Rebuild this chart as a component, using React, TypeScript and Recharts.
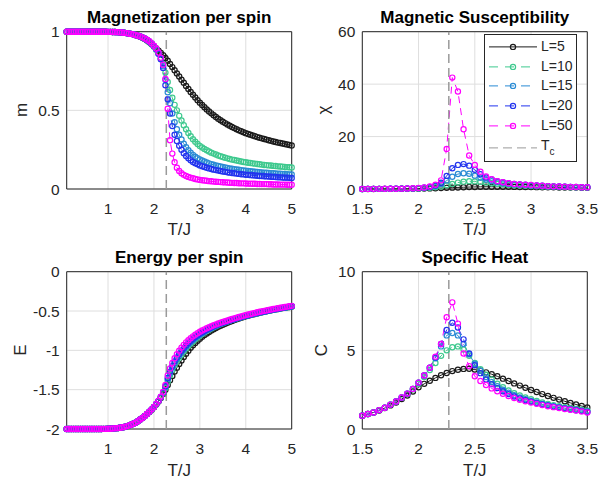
import React from 'react';
import { LineChart, Line, XAxis, YAxis, CartesianGrid, ReferenceLine, ReferenceArea } from 'recharts';

const FONT = "'Liberation Sans', Arial, Helvetica, sans-serif";
const TC = 2.269;

const seriesKeys = ['L5', 'L10', 'L15', 'L20', 'L50'];
const seriesLabels = ['L=5', 'L=10', 'L=15', 'L=20', 'L=50'];
const seriesColors = ['#1a1a1a', '#3ec98e', '#2a8bd4', '#2233ee', '#ff00ff'];
const seriesDash = ['', '7 5', '7 5', '7 5', '7 5'];

const T_full = [
  0.1, 0.15, 0.2, 0.25, 0.3, 0.35, 0.4, 0.45, 0.5, 0.55,
  0.6, 0.65, 0.7, 0.75, 0.8, 0.85, 0.9, 0.95, 1, 1.05,
  1.1, 1.15, 1.2, 1.25, 1.3, 1.35, 1.4, 1.45, 1.5, 1.55,
  1.6, 1.65, 1.7, 1.75, 1.8, 1.85, 1.9, 1.95, 2, 2.05,
  2.1, 2.15, 2.2, 2.25, 2.3, 2.35, 2.4, 2.45, 2.5, 2.55,
  2.6, 2.65, 2.7, 2.75, 2.8, 2.85, 2.9, 2.95, 3, 3.05,
  3.1, 3.15, 3.2, 3.25, 3.3, 3.35, 3.4, 3.45, 3.5, 3.55,
  3.6, 3.65, 3.7, 3.75, 3.8, 3.85, 3.9, 3.95, 4, 4.05,
  4.1, 4.15, 4.2, 4.25, 4.3, 4.35, 4.4, 4.45, 4.5, 4.55,
  4.6, 4.65, 4.7, 4.75, 4.8, 4.85, 4.9, 4.95, 5,
];

const T_zoom = [
  1.5, 1.55, 1.6, 1.65, 1.7, 1.75, 1.8, 1.85, 1.9, 1.95,
  2, 2.05, 2.1, 2.15, 2.2, 2.25, 2.3, 2.35, 2.4, 2.45,
  2.5, 2.55, 2.6, 2.65, 2.7, 2.75, 2.8, 2.85, 2.9, 2.95,
  3, 3.05, 3.1, 3.15, 3.2, 3.25, 3.3, 3.35, 3.4, 3.45,
  3.5,
];

// Magnetization per spin
const mL5 = [
  1, 1, 1, 1, 1, 1, 1, 1, 1, 1,
  1, 1, 1, 1, 1, 1, 1, 1, 0.999, 0.999,
  0.998, 0.998, 0.997, 0.996, 0.995, 0.993, 0.991, 0.989, 0.986, 0.983,
  0.978, 0.974, 0.968, 0.961, 0.953, 0.944, 0.933, 0.921, 0.907, 0.894,
  0.88, 0.865, 0.85, 0.833, 0.815, 0.795, 0.775, 0.755, 0.735, 0.715,
  0.695, 0.675, 0.655, 0.636, 0.617, 0.599, 0.582, 0.565, 0.549, 0.534,
  0.52, 0.506, 0.493, 0.481, 0.469, 0.458, 0.447, 0.437, 0.428, 0.419,
  0.41, 0.402, 0.394, 0.387, 0.38, 0.373, 0.367, 0.361, 0.355, 0.35,
  0.345, 0.34, 0.335, 0.33, 0.326, 0.322, 0.318, 0.314, 0.31, 0.306,
  0.302, 0.299, 0.295, 0.292, 0.289, 0.286, 0.283, 0.28, 0.277,
];
const mL10 = [
  1, 1, 1, 1, 1, 1, 1, 1, 1, 1,
  1, 1, 1, 1, 1, 1, 1, 1, 0.999, 0.999,
  0.998, 0.998, 0.997, 0.996, 0.995, 0.993, 0.991, 0.989, 0.986, 0.983,
  0.979, 0.975, 0.97, 0.963, 0.955, 0.946, 0.935, 0.921, 0.905, 0.885,
  0.862, 0.832, 0.795, 0.74, 0.68, 0.63, 0.58, 0.535, 0.5, 0.465,
  0.435, 0.405, 0.38, 0.356, 0.335, 0.316, 0.3, 0.286, 0.274, 0.264,
  0.255, 0.246, 0.238, 0.231, 0.225, 0.219, 0.213, 0.208, 0.203, 0.199,
  0.195, 0.191, 0.187, 0.184, 0.181, 0.178, 0.175, 0.172, 0.17, 0.167,
  0.165, 0.163, 0.161, 0.159, 0.157, 0.155, 0.153, 0.152, 0.15, 0.149,
  0.147, 0.146, 0.144, 0.143, 0.142, 0.14, 0.139, 0.138, 0.137,
];
const mL15 = [
  1, 1, 1, 1, 1, 1, 1, 1, 1, 1,
  1, 1, 1, 1, 1, 1, 1, 1, 0.999, 0.999,
  0.998, 0.998, 0.997, 0.996, 0.995, 0.993, 0.991, 0.989, 0.986, 0.983,
  0.979, 0.975, 0.97, 0.964, 0.957, 0.948, 0.937, 0.923, 0.907, 0.888,
  0.862, 0.828, 0.78, 0.695, 0.615, 0.545, 0.48, 0.425, 0.38, 0.345,
  0.315, 0.288, 0.265, 0.246, 0.23, 0.217, 0.205, 0.196, 0.188, 0.181,
  0.175, 0.169, 0.163, 0.158, 0.154, 0.15, 0.146, 0.143, 0.14, 0.137,
  0.134, 0.131, 0.129, 0.126, 0.124, 0.122, 0.12, 0.118, 0.116, 0.115,
  0.113, 0.111, 0.11, 0.108, 0.107, 0.106, 0.104, 0.103, 0.102, 0.101,
  0.1, 0.099, 0.098, 0.097, 0.096, 0.095, 0.094, 0.093, 0.092,
];
const mL20 = [
  1, 1, 1, 1, 1, 1, 1, 1, 1, 1,
  1, 1, 1, 1, 1, 1, 1, 1, 0.999, 0.999,
  0.998, 0.998, 0.997, 0.996, 0.995, 0.993, 0.991, 0.989, 0.986, 0.983,
  0.979, 0.975, 0.97, 0.964, 0.957, 0.948, 0.938, 0.925, 0.909, 0.89,
  0.86, 0.825, 0.77, 0.66, 0.57, 0.48, 0.4, 0.345, 0.305, 0.275,
  0.25, 0.228, 0.21, 0.195, 0.182, 0.172, 0.164, 0.157, 0.15, 0.145,
  0.14, 0.135, 0.131, 0.127, 0.123, 0.12, 0.117, 0.114, 0.111, 0.109,
  0.106, 0.104, 0.102, 0.1, 0.098, 0.096, 0.094, 0.093, 0.091, 0.09,
  0.088, 0.087, 0.086, 0.084, 0.083, 0.082, 0.081, 0.08, 0.079, 0.078,
  0.077, 0.076, 0.075, 0.074, 0.073, 0.072, 0.072, 0.071, 0.07,
];
const mL50 = [
  1, 1, 1, 1, 1, 1, 1, 1, 1, 1,
  1, 1, 1, 1, 1, 1, 1, 1, 0.999, 0.999,
  0.998, 0.998, 0.997, 0.996, 0.995, 0.993, 0.991, 0.989, 0.986, 0.983,
  0.979, 0.975, 0.97, 0.964, 0.957, 0.949, 0.939, 0.926, 0.911, 0.893,
  0.868, 0.835, 0.79, 0.7, 0.51, 0.31, 0.225, 0.17, 0.135, 0.115,
  0.1, 0.09, 0.083, 0.077, 0.072, 0.068, 0.064, 0.061, 0.058, 0.056,
  0.054, 0.052, 0.05, 0.049, 0.047, 0.046, 0.045, 0.044, 0.043, 0.042,
  0.041, 0.04, 0.039, 0.038, 0.038, 0.037, 0.036, 0.036, 0.035, 0.034,
  0.034, 0.033, 0.033, 0.032, 0.032, 0.031, 0.031, 0.031, 0.03, 0.03,
  0.029, 0.029, 0.029, 0.028, 0.028, 0.028, 0.027, 0.027, 0.027,
];

// Energy per spin
const eL5 = [
  -2, -2, -2, -2, -2, -2, -2, -2, -2, -2,
  -2, -2, -2, -2, -2, -2, -1.999, -1.999, -1.997, -1.996,
  -1.994, -1.992, -1.989, -1.985, -1.98, -1.974, -1.966, -1.957, -1.946, -1.933,
  -1.92, -1.9, -1.88, -1.86, -1.835, -1.81, -1.785, -1.755, -1.725, -1.69,
  -1.65, -1.605, -1.555, -1.5, -1.44, -1.38, -1.325, -1.27, -1.22, -1.175,
  -1.13, -1.085, -1.043, -1.004, -0.968, -0.935, -0.905, -0.877, -0.851, -0.828,
  -0.806, -0.786, -0.767, -0.749, -0.732, -0.716, -0.701, -0.687, -0.674, -0.661,
  -0.649, -0.637, -0.626, -0.615, -0.605, -0.595, -0.586, -0.577, -0.568, -0.56,
  -0.552, -0.544, -0.537, -0.53, -0.523, -0.516, -0.51, -0.503, -0.497, -0.491,
  -0.485, -0.479, -0.474, -0.468, -0.463, -0.458, -0.453, -0.448, -0.443,
];
const eL10 = [
  -2, -2, -2, -2, -2, -2, -2, -2, -2, -2,
  -2, -2, -2, -2, -2, -2, -1.999, -1.999, -1.997, -1.996,
  -1.994, -1.992, -1.989, -1.985, -1.98, -1.974, -1.966, -1.957, -1.946, -1.933,
  -1.92, -1.9, -1.88, -1.86, -1.835, -1.81, -1.78, -1.752, -1.72, -1.685,
  -1.645, -1.6, -1.55, -1.48, -1.4, -1.32, -1.25, -1.19, -1.14, -1.095,
  -1.055, -1.015, -0.978, -0.945, -0.914, -0.886, -0.86, -0.836, -0.813, -0.792,
  -0.772, -0.754, -0.737, -0.721, -0.706, -0.692, -0.679, -0.666, -0.654, -0.643,
  -0.633, -0.623, -0.613, -0.604, -0.595, -0.586, -0.578, -0.57, -0.562, -0.555,
  -0.548, -0.541, -0.534, -0.527, -0.521, -0.515, -0.509, -0.503, -0.497, -0.491,
  -0.485, -0.479, -0.474, -0.468, -0.463, -0.458, -0.453, -0.448, -0.443,
];
const eL15 = [
  -2, -2, -2, -2, -2, -2, -2, -2, -2, -2,
  -2, -2, -2, -2, -2, -2, -1.999, -1.999, -1.997, -1.996,
  -1.994, -1.992, -1.989, -1.985, -1.98, -1.974, -1.966, -1.957, -1.946, -1.933,
  -1.92, -1.9, -1.88, -1.86, -1.835, -1.81, -1.78, -1.75, -1.72, -1.683,
  -1.643, -1.595, -1.54, -1.465, -1.37, -1.29, -1.22, -1.16, -1.11, -1.065,
  -1.025, -0.988, -0.953, -0.922, -0.893, -0.867, -0.843, -0.821, -0.8, -0.781,
  -0.763, -0.746, -0.73, -0.715, -0.701, -0.688, -0.675, -0.663, -0.652, -0.641,
  -0.631, -0.621, -0.611, -0.602, -0.593, -0.584, -0.576, -0.568, -0.56, -0.553,
  -0.546, -0.539, -0.532, -0.525, -0.518, -0.512, -0.506, -0.5, -0.494, -0.488,
  -0.482, -0.476, -0.471, -0.465, -0.46, -0.455, -0.45, -0.445, -0.44,
];
const eL20 = [
  -2, -2, -2, -2, -2, -2, -2, -2, -2, -2,
  -2, -2, -2, -2, -2, -2, -1.999, -1.999, -1.997, -1.996,
  -1.994, -1.992, -1.989, -1.985, -1.98, -1.974, -1.966, -1.957, -1.946, -1.933,
  -1.92, -1.9, -1.88, -1.86, -1.835, -1.81, -1.78, -1.75, -1.72, -1.682,
  -1.642, -1.593, -1.535, -1.455, -1.35, -1.27, -1.2, -1.14, -1.09, -1.045,
  -1.005, -0.97, -0.937, -0.907, -0.879, -0.854, -0.831, -0.81, -0.79, -0.772,
  -0.755, -0.739, -0.724, -0.709, -0.696, -0.683, -0.671, -0.66, -0.649, -0.639,
  -0.629, -0.619, -0.61, -0.601, -0.592, -0.584, -0.576, -0.568, -0.56, -0.553,
  -0.546, -0.539, -0.532, -0.525, -0.518, -0.512, -0.506, -0.5, -0.494, -0.488,
  -0.482, -0.476, -0.471, -0.465, -0.46, -0.455, -0.45, -0.445, -0.44,
];
const eL50 = [
  -2, -2, -2, -2, -2, -2, -2, -2, -2, -2,
  -2, -2, -2, -2, -2, -2, -1.999, -1.999, -1.997, -1.996,
  -1.994, -1.992, -1.989, -1.985, -1.98, -1.974, -1.966, -1.957, -1.946, -1.933,
  -1.92, -1.9, -1.88, -1.86, -1.835, -1.81, -1.78, -1.75, -1.72, -1.68,
  -1.64, -1.59, -1.53, -1.44, -1.32, -1.23, -1.16, -1.1, -1.05, -1.005,
  -0.965, -0.93, -0.898, -0.87, -0.845, -0.822, -0.801, -0.782, -0.764, -0.748,
  -0.733, -0.719, -0.706, -0.693, -0.681, -0.67, -0.659, -0.648, -0.638, -0.629,
  -0.62, -0.611, -0.602, -0.593, -0.584, -0.576, -0.568, -0.56, -0.552, -0.544,
  -0.537, -0.53, -0.523, -0.516, -0.51, -0.504, -0.498, -0.492, -0.486, -0.48,
  -0.475, -0.469, -0.464, -0.459, -0.454, -0.449, -0.444, -0.439, -0.434,
];

// Magnetic susceptibility (T = 1.5 ... 3.5)
const chiL5 = [
  0.01, 0.02, 0.02, 0.03, 0.04, 0.05, 0.06, 0.07, 0.09, 0.11,
  0.14, 0.18, 0.23, 0.29, 0.36, 0.44, 0.52, 0.6, 0.67, 0.74,
  0.79, 0.83, 0.85, 0.86, 0.86, 0.85, 0.83, 0.81, 0.79, 0.76,
  0.73, 0.7, 0.67, 0.64, 0.62, 0.59, 0.57, 0.55, 0.53, 0.51,
  0.49,
];
const chiL10 = [
  0.02, 0.03, 0.03, 0.04, 0.05, 0.06, 0.08, 0.1, 0.13, 0.17,
  0.23, 0.33, 0.48, 0.7, 1.0, 1.45, 1.95, 2.45, 2.8, 2.95,
  2.9, 2.7, 2.45, 2.2, 1.95, 1.75, 1.58, 1.44, 1.32, 1.21,
  1.12, 1.04, 0.97, 0.9, 0.84, 0.79, 0.74, 0.7, 0.66, 0.62,
  0.59,
];
const chiL15 = [
  0.02, 0.03, 0.04, 0.05, 0.06, 0.07, 0.09, 0.11, 0.15, 0.21,
  0.3, 0.45, 0.7, 1.1, 1.9, 3.2, 4.7, 5.7, 6.0, 5.8,
  5.1, 4.3, 3.6, 3.0, 2.55, 2.2, 1.95, 1.75, 1.6, 1.47,
  1.36, 1.25, 1.15, 1.06, 0.98, 0.9, 0.84, 0.78, 0.73, 0.68,
  0.64,
];
const chiL20 = [
  0.02, 0.03, 0.04, 0.05, 0.06, 0.07, 0.09, 0.12, 0.17, 0.24,
  0.35, 0.52, 0.8, 1.3, 2.4, 5.0, 7.9, 9.2, 9.5, 8.9,
  7.3, 5.6, 4.4, 3.6, 3.0, 2.55, 2.2, 1.95, 1.75, 1.6,
  1.47, 1.34, 1.22, 1.11, 1.01, 0.93, 0.86, 0.8, 0.74, 0.69,
  0.65,
];
const chiL50 = [
  0.03, 0.04, 0.05, 0.06, 0.07, 0.09, 0.11, 0.14, 0.2, 0.28,
  0.4, 0.6, 0.95, 1.6, 3.3, 15.3, 42.5, 37.2, 22.8, 12.8,
  9.2, 6.6, 4.8, 3.7, 3.0, 2.55, 2.2, 1.95, 1.75, 1.62,
  1.5, 1.35, 1.22, 1.11, 1.01, 0.93, 0.86, 0.8, 0.74, 0.69,
  0.65,
];

// Specific heat (T = 1.5 ... 3.5)
const cL5 = [
  0.85, 0.95, 1.05, 1.18, 1.33, 1.5, 1.68, 1.9, 2.13, 2.38,
  2.65, 2.87, 3.07, 3.25, 3.42, 3.56, 3.68, 3.77, 3.82, 3.83,
  3.78, 3.7, 3.6, 3.48, 3.35, 3.2, 3.05, 2.9, 2.76, 2.62,
  2.48, 2.35, 2.22, 2.1, 1.98, 1.87, 1.76, 1.66, 1.56, 1.46,
  1.37,
];
const cL10 = [
  0.85, 0.95, 1.05, 1.2, 1.35, 1.55, 1.75, 1.98, 2.23, 2.52,
  2.88, 3.3, 3.75, 4.2, 4.65, 5.0, 5.2, 5.25, 5.05, 4.65,
  4.2, 3.8, 3.45, 3.15, 2.88, 2.65, 2.45, 2.28, 2.13, 2.0,
  1.89, 1.78, 1.69, 1.6, 1.52, 1.45, 1.39, 1.33, 1.27, 1.22,
  1.16,
];
const cL15 = [
  0.85, 0.95, 1.05, 1.2, 1.35, 1.55, 1.75, 2.0, 2.25, 2.55,
  2.95, 3.4, 3.9, 4.5, 5.25, 5.95, 6.1, 5.95, 5.4, 4.75,
  4.15, 3.7, 3.3, 2.98, 2.72, 2.5, 2.31, 2.15, 2.01, 1.89,
  1.78, 1.69, 1.6, 1.52, 1.45, 1.39, 1.33, 1.27, 1.22, 1.17,
  1.11,
];
const cL20 = [
  0.85, 0.95, 1.05, 1.2, 1.35, 1.55, 1.75, 2.0, 2.25, 2.55,
  2.95, 3.4, 3.9, 4.55, 5.4, 6.3, 6.75, 6.45, 5.7, 4.8,
  4.05, 3.55, 3.15, 2.85, 2.6, 2.4, 2.22, 2.07, 1.94, 1.83,
  1.73, 1.64, 1.56, 1.49, 1.42, 1.36, 1.3, 1.24, 1.19, 1.14,
  1.08,
];
const cL50 = [
  0.85, 0.95, 1.05, 1.2, 1.35, 1.55, 1.75, 2.0, 2.25, 2.55,
  2.95, 3.4, 3.9, 4.6, 5.4, 7.1, 8.05, 6.7, 4.8, 4.0,
  3.35, 3.05, 2.8, 2.58, 2.4, 2.24, 2.1, 1.97, 1.86, 1.76,
  1.68, 1.6, 1.52, 1.45, 1.39, 1.33, 1.27, 1.22, 1.17, 1.12,
  1.05,
];

const xTicksFull = [1, 2, 3, 4, 5];
const xTicksZoom = [1.5, 2, 2.5, 3, 3.5];
const mTicks = [0, 0.5, 1];
const chiTicks = [0, 20, 40, 60];
const eTicks = [-2, -1.5, -1, -0.5, 0];
const cTicks = [0, 5, 10];

function buildRows(ts: number[], arrays: number[][]) {
  return ts.map((t, i) => {
    const row: any = { T: t };
    seriesKeys.forEach((k, j) => {
      row[k] = arrays[j][i];
    });
    return row;
  });
}

const mData = buildRows(T_full, [mL5, mL10, mL15, mL20, mL50]);
const eData = buildRows(T_full, [eL5, eL10, eL15, eL20, eL50]);
const chiData = buildRows(T_zoom, [chiL5, chiL10, chiL15, chiL20, chiL50]);
const cData = buildRows(T_zoom, [cL5, cL10, cL15, cL20, cL50]);

const TICK_STYLE = { fill: '#262626', fontSize: 15.5, fontFamily: FONT };
const DOT_R = 2.6;
const DOT_W = 1.2;

type PanelProps = {
  left: number;
  top: number;
  data: any[];
  xDomain: [number, number];
  xTicks: number[];
  yDomain: [number, number];
  yTicks: number[];
  mLeft: number;
  mRight: number;
};

function Panel(p: PanelProps) {
  return (
    <div style={{ position: 'absolute', left: p.left, top: p.top }}>
      <LineChart
        width={300}
        height={239}
        data={p.data}
        margin={{ top: 31.7, right: p.mRight, bottom: 20, left: p.mLeft }}
      >
        <CartesianGrid stroke="#dedede" strokeWidth={1} />
        <XAxis
          type="number"
          dataKey="T"
          domain={p.xDomain}
          ticks={p.xTicks}
          interval={0}
          axisLine={false}
          tickLine={false}
          tickSize={6}
          tickMargin={8}
          height={30}
          tick={TICK_STYLE}
        />
        <YAxis
          type="number"
          domain={p.yDomain}
          ticks={p.yTicks}
          interval={0}
          width={40}
          axisLine={false}
          tickLine={false}
          tickSize={5}
          tickMargin={2}
          tick={TICK_STYLE}
        />
        {seriesKeys.map((k, j) => (
          <Line
            key={k}
            type="linear"
            dataKey={k}
            stroke={seriesColors[j]}
            strokeWidth={1}
            strokeDasharray={seriesDash[j] || undefined}
            dot={{ r: DOT_R, fill: 'none', stroke: seriesColors[j], strokeWidth: DOT_W, strokeDasharray: 'none' }}
            activeDot={false}
            isAnimationActive={false}
          />
        ))}
        <ReferenceLine x={TC} stroke="#9a9a9a" strokeWidth={1.5} strokeDasharray="9 5" />
        <ReferenceArea
          x1={p.xDomain[0]}
          x2={p.xDomain[1]}
          y1={p.yDomain[0]}
          y2={p.yDomain[1]}
          fill="none"
          fillOpacity={0}
          stroke="#262626"
          strokeWidth={1}
          ifOverflow="visible"
        />
      </LineChart>
    </div>
  );
}

function TextAt({ x, y, size, bold, rotate, children }: any) {
  return (
    <div
      style={{
        position: 'absolute',
        left: x,
        top: y,
        transform: `translate(-50%, -50%)${rotate ? ' rotate(-90deg)' : ''}`,
        fontFamily: FONT,
        fontSize: size,
        fontWeight: bold ? 'bold' : 'normal',
        color: bold ? '#000' : '#262626',
        whiteSpace: 'nowrap',
        lineHeight: 1,
      }}
    >
      {children}
    </div>
  );
}

function LegendBox() {
  const rowH = 19.8;
  return (
    <div
      style={{
        position: 'absolute',
        left: 484,
        top: 34.3,
        width: 93,
        height: 128,
        boxSizing: 'border-box',
        border: '1px solid #262626',
        background: '#fff',
        fontFamily: FONT,
        fontSize: 14,
        color: '#262626',
      }}
    >
      {seriesLabels.map((lab, j) => (
        <div key={lab} style={{ position: 'absolute', left: 0, top: 1.5 + j * rowH, height: rowH, width: 92 }}>
          <svg width={54} height={rowH} style={{ position: 'absolute', left: 4, top: 0 }}>
            <line
              x1={0}
              x2={48}
              y1={rowH / 2}
              y2={rowH / 2}
              stroke={seriesColors[j]}
              strokeWidth={1}
              strokeDasharray={seriesDash[j] ? '9 7' : undefined}
            />
            <circle cx={24} cy={rowH / 2} r={DOT_R} fill="none" stroke={seriesColors[j]} strokeWidth={DOT_W} />
          </svg>
          <span style={{ position: 'absolute', left: 56, top: 0, lineHeight: `${rowH}px` }}>{lab}</span>
        </div>
      ))}
      <div style={{ position: 'absolute', left: 0, top: 1.5 + 5 * rowH, height: rowH + 6, width: 92 }}>
        <svg width={54} height={rowH + 6} style={{ position: 'absolute', left: 4, top: 0 }}>
          <line x1={0} x2={48} y1={rowH / 2 + 2} y2={rowH / 2 + 2} stroke="#9a9a9a" strokeWidth={1} strokeDasharray="9 5" />
        </svg>
        <span style={{ position: 'absolute', left: 56, top: 0, lineHeight: `${rowH}px` }}>
          T<sub style={{ fontSize: 10, verticalAlign: '-5px' }}>c</sub>
        </span>
      </div>
    </div>
  );
}

export default function App() {
  return (
    <div style={{ position: 'absolute', left: 0, top: 0, width: 600, height: 478, background: '#fff', overflow: 'hidden' }}>
      <Panel left={0} top={0} data={mData} xDomain={[0.1, 5]} xTicks={xTicksFull} yDomain={[0, 1]} yTicks={mTicks} mLeft={26.7} mRight={8.3} />
      <Panel left={300} top={0} data={chiData} xDomain={[1.5, 3.5]} xTicks={xTicksZoom} yDomain={[0, 60]} yTicks={chiTicks} mLeft={22.3} mRight={12.7} />
      <Panel left={0} top={240} data={eData} xDomain={[0.1, 5]} xTicks={xTicksFull} yDomain={[-2, 0]} yTicks={eTicks} mLeft={26.7} mRight={8.3} />
      <Panel left={300} top={240} data={cData} xDomain={[1.5, 3.5]} xTicks={xTicksZoom} yDomain={[0, 10]} yTicks={cTicks} mLeft={22.3} mRight={12.7} />

      <TextAt x={179.2} y={16.7} size={17} bold>Magnetization per spin</TextAt>
      <TextAt x={474.8} y={16.7} size={17} bold>Magnetic Susceptibility</TextAt>
      <TextAt x={179.2} y={256.7} size={17} bold>Energy per spin</TextAt>
      <TextAt x={474.8} y={256.7} size={17} bold>Specific Heat</TextAt>

      <TextAt x={179.2} y={228.5} size={17}>T/J</TextAt>
      <TextAt x={474.8} y={228.5} size={17}>T/J</TextAt>
      <TextAt x={179.2} y={469.5} size={17}>T/J</TextAt>
      <TextAt x={474.8} y={469.5} size={17}>T/J</TextAt>

      <TextAt x={21} y={110.3} size={17} rotate>m</TextAt>
      <TextAt x={322.5} y={110.3} size={17} rotate>χ</TextAt>
      <TextAt x={20} y={350.3} size={17} rotate>E</TextAt>
      <TextAt x={321} y={350.3} size={17} rotate>C</TextAt>

      <LegendBox />
    </div>
  );
}
